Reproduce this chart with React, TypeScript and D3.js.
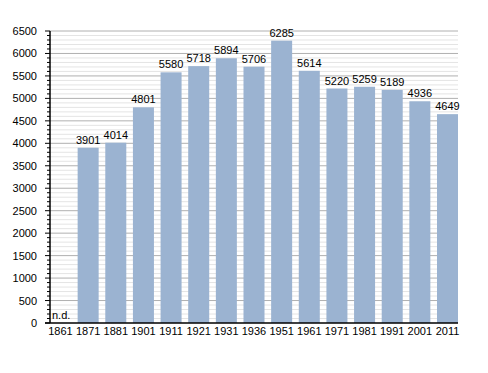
import React from "react";
import * as d3 from "d3";

const years = ["1861", "1871", "1881", "1901", "1911", "1921", "1931", "1936", "1951", "1961", "1971", "1981", "1991", "2001", "2011"];
const population: (number | null)[] = [null, 3901, 4014, 4801, 5580, 5718, 5894, 5706, 6285, 5614, 5220, 5259, 5189, 4936, 4649];
const majorTicks = d3.range(0, 6501, 500);
const minorTicks = d3.range(0, 6501, 100);

const W = 488;
const H = 373;
const left = 50;
const right = 458;
const top = 31;
const bottom = 323;
const font = "'Liberation Sans', Arial, sans-serif";

export default function App() {
  const x = d3.scaleBand<string>().domain(years).range([left, right]).paddingInner(0.24).paddingOuter(0);
  const y = d3.scaleLinear().domain([0, 6500]).range([bottom, top]);

  return (
    <svg width={W} height={H} style={{ position: "absolute", left: 0, top: 0, background: "#fff" }}>
      {minorTicks.filter((t) => t % 500 !== 0).map((t) => (
        <g key={"m" + t}>
          <line x1={left} x2={right} y1={y(t)} y2={y(t)} stroke="#e4e4e4" strokeWidth={1} />
          <line x1={left - 3} x2={left} y1={y(t)} y2={y(t)} stroke="#000" strokeWidth={1} />
        </g>
      ))}
      {majorTicks.map((t) => (
        <g key={"M" + t}>
          {t > 0 && <line x1={left} x2={right} y1={y(t)} y2={y(t)} stroke="#b0b0b0" strokeWidth={1} />}
          <line x1={left - 5} x2={left} y1={y(t)} y2={y(t)} stroke="#000" strokeWidth={1} />
          <text x={37} y={y(t) + 4} textAnchor="end" fontFamily={font} fontSize={11} fill="#000">
            {t}
          </text>
        </g>
      ))}
      {years.map((yr, i) => {
        const v = population[i];
        const bx = x(yr)!;
        return (
          <g key={yr}>
            {v !== null ? (
              <>
                <rect x={bx} y={y(v)} width={x.bandwidth()} height={bottom - y(v)} fill="#9bb3d1" />
                <text x={bx + x.bandwidth() / 2} y={y(v) - 4} textAnchor="middle" fontFamily={font} fontSize={11} fill="#000">
                  {v}
                </text>
              </>
            ) : (
              <text x={bx + 2} y={bottom - 4} fontFamily={font} fontSize={11} fill="#000">
                n.d.
              </text>
            )}
            <text x={bx + x.bandwidth() / 2} y={bottom + 12} textAnchor="middle" fontFamily={font} fontSize={11} fill="#000">
              {yr}
            </text>
          </g>
        );
      })}
      <line x1={left} x2={left} y1={top} y2={bottom} stroke="#000" strokeWidth={1.5} />
      <line x1={left - 5} x2={right} y1={bottom} y2={bottom} stroke="#000" strokeWidth={1.5} />
    </svg>
  );
}
